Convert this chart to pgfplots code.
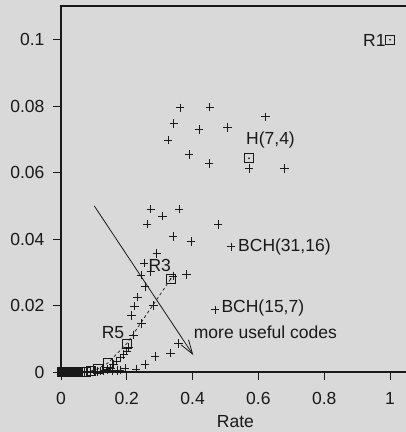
\documentclass[border=0pt]{standalone}
\usepackage{fontspec}
\setmainfont{Liberation Sans}
\usepackage{pgfplots}
\pgfplotsset{compat=1.18}
\usetikzlibrary{arrows.meta}
\definecolor{bg}{RGB}{217,217,217}
\definecolor{ink}{RGB}{25,25,25}

\pgfplotstableread{
x y
0.362 0.0795
0.452 0.0797
0.621 0.0768
0.343 0.0748
0.420 0.0730
0.506 0.0736
0.325 0.0698
0.389 0.0655
0.450 0.0627
0.572 0.0613
0.679 0.0613
0.273 0.0490
0.359 0.0490
0.308 0.0469
0.262 0.0445
0.478 0.0444
0.341 0.0408
0.395 0.0393
0.517 0.0377
0.291 0.0357
0.252 0.0328
0.273 0.0302
0.382 0.0294
0.341 0.0289
0.243 0.0292
0.255 0.0257
0.233 0.0226
0.223 0.0198
0.281 0.0200
0.214 0.0170
0.245 0.0146
0.468 0.0187
0.220 0.0111
0.357 0.0086
0.333 0.0057
0.286 0.0047
0.255 0.0022
0.228 0.0009
0.195 0.0012
0.205 0.0075
0.200 0.0063
0.191 0.0053
0.181 0.0043
0.169 0.0033
0.160 0.0022
0.150 0.0012
0.140 0.0008
0.130 0.0005
0.120 0.0003
0.110 0.0002
0.100 0.0001
0.090 0.0000
0.080 0.0000
0.070 0.0000
0.060 0.0000
0.050 0.0000
0.040 0.0000
0.030 0.0000
0.020 0.0000
0.010 0.0000
0.005 0.0000
0.170 0.0005
0.180 0.0006
0.155 0.0004
}\bch

\pgfplotstableread{
x y
0.333333 0.0280
0.200000 0.00856
0.142857 0.00273
0.111111 0.00089
0.090909 0.000296
0.076923 0.000100
0.066667 0.000034
0.058824 0.000012
0.052632 0.000004
0.047619 0.0000015
0.043478 0.0
0.040000 0.0
0.037037 0.0
0.034483 0.0
0.032258 0.0
0.030303 0.0
0.028571 0.0
0.027027 0.0
0.025641 0.0
0.024390 0.0
0.023256 0.0
0.022222 0.0
0.021277 0.0
0.020408 0.0
0.019608 0.0
0.018868 0.0
0.018182 0.0
0.017544 0.0
0.016949 0.0
0.016393 0.0
0.014925 0.0
0.013699 0.0
0.012658 0.0
0.011765 0.0
0.010989 0.0
0.009901 0.0
0.008000 0.0
0.006000 0.0
0.004000 0.0
0.002000 0.0
}\rep

\begin{document}
\begin{tikzpicture}[font=\fontsize{17.5}{20}\selectfont]
\fill[bg] (-61pt,-60pt) rectangle (345pt,372pt);
\begin{axis}[
  at={(0,0)}, anchor=origin,
  x=329pt, y=3323pt,
  xmin=0, xmax=1.06, ymin=0, ymax=0.1101,
  clip=false,
  axis line style={ink, line width=1.5pt},
  tick align=outside, major tick length=8pt,
  tick style={ink, line width=0.8pt},
  xtick pos=bottom, ytick pos=left,
  xtick={0,0.2,0.4,0.6,0.8,1},
  ytick={0,0.02,0.04,0.06,0.08,0.1},
  scaled x ticks=false, scaled y ticks=false,
  /pgf/number format/assume math mode=true,
  xticklabel style={font=\fontsize{17.5}{20}\selectfont, text=ink, yshift=-9pt},
  yticklabel style={font=\fontsize{17.5}{20}\selectfont, text=ink, xshift=-5pt,
    /pgf/number format/fixed, /pgf/number format/precision=2},
  xlabel={Rate},
  xlabel style={font=\fontsize{17.5}{20}\selectfont, text=ink, inner sep=0pt, yshift=-7.5pt},
]
\addplot[ink, only marks, mark=+, mark size=4.2pt, mark options={line width=0.75pt}] table {\bch};
\addplot[ink, dashed, dash pattern=on 3pt off 2.5pt, line width=0.7pt] table {\rep};
\addplot[ink, only marks, mark=square, mark size=4.5pt, mark options={line width=0.8pt}] table {\rep};
\addplot[ink, only marks, mark=square, mark size=4.5pt, mark options={line width=0.8pt}] coordinates {(1,0.1) (0.5714,0.0643)};
\addplot[ink, only marks, mark=*, mark size=0.6pt] coordinates {(1,0.1) (0.5714,0.0643) (0.3333,0.028)};
\addplot[ink, line width=0.8pt, -{Straight Barb[length=14pt,width=9pt,line width=0.8pt]}] coordinates {(0.101,0.050) (0.402,0.0051)};
\node[anchor=east, inner sep=0pt, text=ink] at (axis cs:0.987,0.0999) {R1};
\node[anchor=west, inner sep=0pt, text=ink] at (axis cs:0.5623,0.0698) {H(7,4)};
\node[anchor=west, inner sep=0pt, text=ink] at (axis cs:0.538,0.0375) {BCH(31,16)};
\node[anchor=west, inner sep=0pt, text=ink] at (axis cs:0.4873,0.0194) {BCH(15,7)};
\node[anchor=west, inner sep=0pt, text=ink] at (axis cs:0.4033,0.0120) {more useful codes};
\node[anchor=west, inner sep=0pt, text=ink] at (axis cs:0.2655,0.0322) {R3};
\node[anchor=west, inner sep=0pt, text=ink] at (axis cs:0.1236,0.0119) {R5};
\end{axis}
\pgfresetboundingbox
\path (-61pt,-60pt) rectangle (345pt,372pt);
\end{tikzpicture}
\end{document}
